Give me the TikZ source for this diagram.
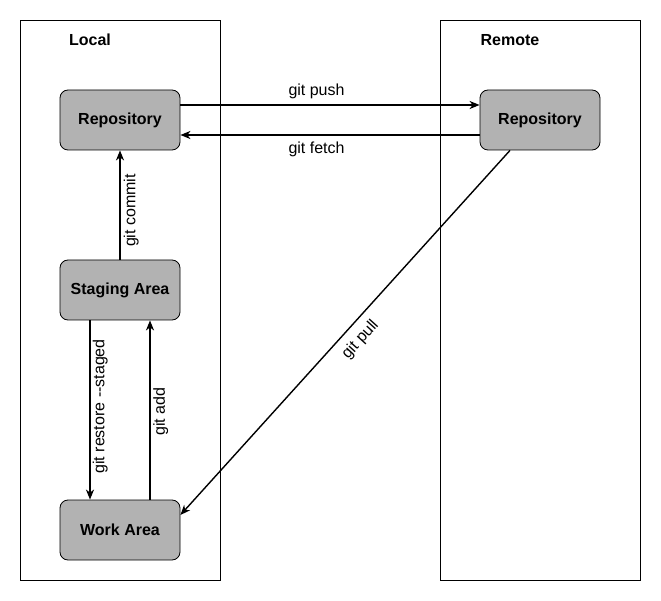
\documentclass[tikz,border=0pt]{standalone}
\usepackage{fontspec}
\setmainfont{Liberation Sans}
\usetikzlibrary{positioning, arrows.meta}

\begin{document}
\begin{tikzpicture}[
	x=1pt, y=-1pt,
	font=\fontsize{16}{19}\selectfont,
	side/.style={draw=black, line width=0.8pt, minimum width=200pt, minimum height=560pt, inner sep=0pt},
	stage/.style={draw=black, line width=0.8pt, rounded corners=8pt, fill=black!30, minimum width=120pt, minimum height=60pt, inner sep=2pt, font=\fontsize{16}{19}\selectfont\bfseries},
	title/.style={font=\fontsize{16}{19}\selectfont\bfseries},
	ar/.style={-{Stealth[length=10pt, width=8pt, inset=3pt]}, line width=1.4pt},
	cmd/.style={inner sep=2pt}
	]
	\useasboundingbox (0,0) rectangle (661,601);
	\node[side] (localbox) at (120,300) {};
	\node[side] (remotebox) at (540,300) {};
	\node[title] (localtitle) at (90,40) {Local};
	\node[title] (remotetitle) at (510,40) {Remote};
	\node[stage] (locrepo) at (120,120) {Repository};
	\node[stage] (staging) at (120,290) {Staging Area};
	\node[stage] (workarea) at (120,530) {Work Area};
	\node[stage] (remrepo) at (540,120) {Repository};
	\draw[ar] ([yshift=15pt]locrepo.east) -- ([yshift=15pt]remrepo.west) node[cmd, pos=0.455, above=3pt] {git push};
	\draw[ar] ([yshift=-15pt]remrepo.west) -- ([yshift=-15pt]locrepo.east) node[cmd, pos=0.545, below=4pt] {git fetch};
	\draw[ar] (staging.north) -- (locrepo.south) node[cmd, pos=0.45, rotate=90, anchor=north, inner sep=3pt] {git commit};
	\draw[ar] ([xshift=-30pt]staging.south) -- ([xshift=-30pt]workarea.north) node[cmd, pos=0.48, rotate=90, anchor=north] {git restore {-}{-}staged};
	\draw[ar] ([xshift=30pt]workarea.north) -- ([xshift=30pt]staging.south) node[cmd, pos=0.49, rotate=90, anchor=north, inner sep=2.5pt] {git add};
	\draw[ar] ([xshift=-30pt]remrepo.south) -- ([yshift=15pt]workarea.east) node[cmd, pos=0.49, rotate=47.9, anchor=north, inner sep=8pt] {git pull};
\end{tikzpicture}
\end{document}
